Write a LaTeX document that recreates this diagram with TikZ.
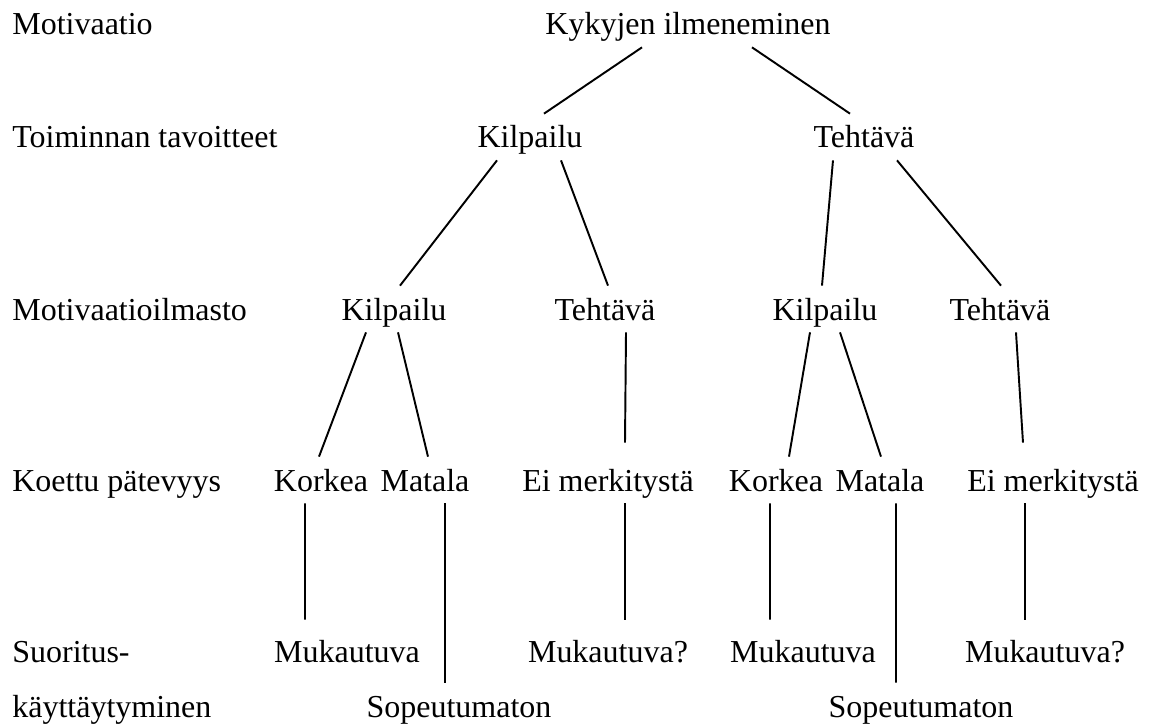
\documentclass[tikz,border=0pt]{standalone}
\usepackage{fontspec}
\setmainfont{Liberation Serif}

\tikzset{
  lvl/.style={font=\fontsize{18.2}{22}\selectfont, inner sep=0pt, anchor=base,
    text height=0.68cm, text depth=0.24cm},
  rowlbl/.style={lvl, anchor=base west},
  link/.style={line width=1.1pt}
}

\begin{document}
\begin{tikzpicture}[scale=1.0]
        \fill[white] (0,0) rectangle (23,14.48);
        \useasboundingbox (0,0) rectangle (23,14.48);
        % Draw the row labels
        \node[rowlbl] (r1) at (0.24,13.78) {Motivaatio};
        \node[rowlbl] (r2) at (0.24,11.52) {Toiminnan tavoitteet};
        \node[rowlbl] (r3) at (0.24,8.08) {Motivaatioilmasto};
        \node[rowlbl] (r4) at (0.24,4.66) {Koettu pätevyys};
        \node[rowlbl] (r5) at (0.24,1.24) {Suoritus-};
        \node[rowlbl] (r6) at (0.24,0.14) {käyttäytyminen};
        % Draw the tree
        \node[lvl] (ky) at (13.76,13.78) {Kykyjen ilmeneminen};
        \node[lvl] (k2) at (10.60,11.52) {Kilpailu};
        \node[lvl] (t2) at (17.28,11.52) {Tehtävä};
        \node[lvl] (k3a) at (7.88,8.08) {Kilpailu};
        \node[lvl] (t3a) at (12.10,8.08) {Tehtävä};
        \node[lvl] (k3b) at (16.50,8.08) {Kilpailu};
        \node[lvl] (t3b) at (20.00,8.08) {Tehtävä};
        \node[lvl] (koa) at (6.42,4.66) {Korkea};
        \node[lvl] (maa) at (8.50,4.66) {Matala};
        \node[lvl] (eia) at (12.16,4.66) {Ei merkitystä};
        \node[lvl] (kob) at (15.52,4.66) {Korkea};
        \node[lvl] (mab) at (17.60,4.66) {Matala};
        \node[lvl] (eib) at (21.06,4.66) {Ei merkitystä};
        \node[lvl] (mua) at (6.94,1.24) {Mukautuva};
        \node[lvl] (mqa) at (12.16,1.24) {Mukautuva?};
        \node[lvl] (mub) at (16.06,1.24) {Mukautuva};
        \node[lvl] (mqb) at (20.90,1.24) {Mukautuva?};
        \node[lvl] (soa) at (9.18,0.14) {Sopeutumaton};
        \node[lvl] (sob) at (18.42,0.14) {Sopeutumaton};
        % Draw the branches
        \draw[link] ([xshift=-0.92cm]ky.south) -- ([xshift=0.28cm]k2.north);
        \draw[link] ([xshift=1.28cm]ky.south) -- ([xshift=-0.28cm]t2.north);
        \draw[link] ([xshift=-0.66cm]k2.south) -- ([xshift=0.12cm]k3a.north);
        \draw[link] ([xshift=0.62cm]k2.south) -- ([xshift=0.06cm]t3a.north);
        \draw[link] ([xshift=-0.62cm]t2.south) -- ([xshift=-0.06cm]k3b.north);
        \draw[link] ([xshift=0.66cm]t2.south) -- ([xshift=0.02cm]t3b.north);
        \draw[link] ([xshift=-0.56cm]k3a.south) -- ([xshift=-0.04cm]koa.north);
        \draw[link] ([xshift=0.08cm]k3a.south) -- ([xshift=0.06cm]maa.north);
        \draw[link] ([xshift=0.42cm]t3a.south) -- ([xshift=0.34cm,yshift=0.28cm]eia.north);
        \draw[link] ([xshift=-0.30cm]k3b.south) -- ([xshift=0.26cm]kob.north);
        \draw[link] ([xshift=0.30cm]k3b.south) -- ([xshift=0.02cm]mab.north);
        \draw[link] ([xshift=0.32cm]t3b.south) -- ([xshift=-0.60cm,yshift=0.28cm]eib.north);
        \draw[link] ([xshift=-0.32cm]koa.south) -- ([xshift=-0.84cm,yshift=0.16cm]mua.north);
        \draw[link] ([xshift=0.40cm]maa.south) -- ([xshift=-0.28cm]soa.north);
        \draw[link] ([xshift=0.34cm]eia.south) -- ([xshift=0.34cm,yshift=0.16cm]mqa.north);
        \draw[link] ([xshift=-0.12cm]kob.south) -- ([xshift=-0.66cm,yshift=0.16cm]mub.north);
        \draw[link] ([xshift=0.32cm]mab.south) -- ([xshift=-0.50cm]sob.north);
        \draw[link] ([xshift=-0.56cm]eib.south) -- ([xshift=-0.40cm,yshift=0.16cm]mqb.north);
    \end{tikzpicture}
\end{document}
